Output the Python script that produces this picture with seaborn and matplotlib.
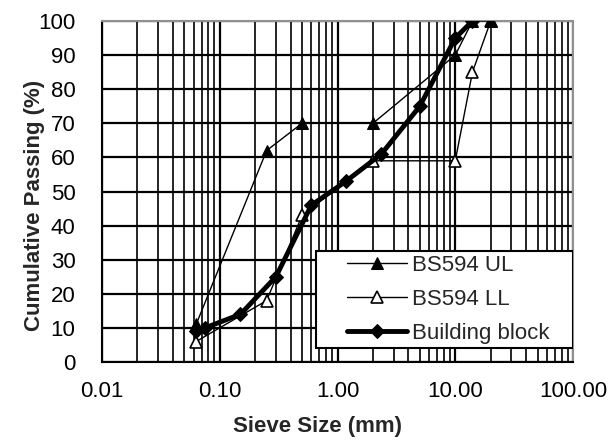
import matplotlib
matplotlib.use("Agg")
import matplotlib.pyplot as plt
import matplotlib.ticker as mticker
from matplotlib.patches import Rectangle
import seaborn as sns
import pandas as pd

# Grading envelope (BS594 limits) and measured building block grading
ul_size = [0.063, 0.25, 0.5, 2.0, 10.0, 14.0, 20.0]
ul_pass = [11, 62, 70, 70, 90, 100, 100]

ll_size = [0.063, 0.25, 0.5, 2.0, 10.0, 14.0, 20.0]
ll_pass = [6, 18, 43, 59, 59, 85, 100]

bb_size = [0.063, 0.075, 0.15, 0.3, 0.6, 1.18, 2.36, 5.0, 10.0, 14.0]
bb_pass = [9, 10, 14, 25, 46, 53, 61, 75, 95, 100]

x_ticks = [0.01, 0.1, 1, 10, 100]
x_tick_labels = ["0.01", "0.10", "1.00", "10.00", "100.00"]
y_ticks = list(range(0, 101, 10))

sns.set_style("white")
plt.rcParams["font.family"] = ["Liberation Sans", "DejaVu Sans"]

fig = plt.figure(figsize=(6.10, 4.43), dpi=100)
ax = fig.add_axes([102 / 610, 81 / 443, 471 / 610, 341 / 443])

ul = pd.DataFrame({"size": ul_size, "passing": ul_pass})
ll = pd.DataFrame({"size": ll_size, "passing": ll_pass})
bb = pd.DataFrame({"size": bb_size, "passing": bb_pass})

# lower limit first so the filled upper-limit markers sit on top
sns.lineplot(data=ll, x="size", y="passing", ax=ax, color="black", lw=1.0,
             marker="^", markersize=9, markerfacecolor="white",
             markeredgecolor="black", markeredgewidth=1.2,
             label="BS594 LL", zorder=3)
sns.lineplot(data=ul, x="size", y="passing", ax=ax, color="black", lw=1.0,
             marker="^", markersize=9, markerfacecolor="black",
             markeredgecolor="black", label="BS594 UL", zorder=3)
sns.lineplot(data=bb, x="size", y="passing", ax=ax, color="black", lw=3.5,
             marker="D", markersize=7, markerfacecolor="black",
             markeredgecolor="black", label="Building block", zorder=4)

ax.set_xscale("log")
ax.set_xlim(0.01, 100)
ax.set_ylim(0, 100)
ax.set_xticks(x_ticks)
ax.set_xticklabels(x_tick_labels)
ax.xaxis.set_minor_locator(mticker.LogLocator(base=10, subs=range(2, 10)))
ax.xaxis.set_minor_formatter(mticker.NullFormatter())
ax.set_yticks(y_ticks)

ax.set_axisbelow(True)
ax.grid(True, which="major", axis="both", color="black", lw=1.6)
ax.grid(True, which="minor", axis="x", color="black", lw=1.2)

ax.tick_params(axis="x", which="major", direction="out", length=7, width=1.2,
               pad=7, labelsize=16, colors="black")
ax.tick_params(axis="x", which="minor", length=0)
ax.tick_params(axis="y", which="major", direction="out", length=9, width=1.2,
               pad=10, labelsize=16, colors="black")

for side in ("left", "bottom"):
    ax.spines[side].set_color("black")
    ax.spines[side].set_linewidth(1.5)
for side in ("top", "right"):
    ax.spines[side].set_color("#909090")
    ax.spines[side].set_linewidth(1.5)

ax.set_xlabel("Sieve Size (mm)", fontsize=16, fontweight="bold")
ax.set_ylabel("Cumulative Passing (%)", fontsize=16, fontweight="bold")
ax.xaxis.set_label_coords(0.457, -0.158)
ax.yaxis.set_label_coords(-0.122, 0.46)

# legend box: white panel in the lower right corner of the plot area
frame = Rectangle((0.454, 0.041), 0.546, 0.284, transform=ax.transAxes,
                  facecolor="white", edgecolor="black", lw=1.5, zorder=9)
ax.add_patch(frame)

handles, labels = ax.get_legend_handles_labels()
order = [1, 0, 2]
leg = ax.legend([handles[i] for i in order], [labels[i] for i in order],
                loc="upper left", bbox_to_anchor=(0.520, 0.313),
                borderaxespad=0, borderpad=0, frameon=False,
                fontsize=16, handlelength=2.7, handletextpad=0.25,
                labelspacing=0.58)
leg.set_zorder(10)

fig.savefig("out.png", dpi=100)
